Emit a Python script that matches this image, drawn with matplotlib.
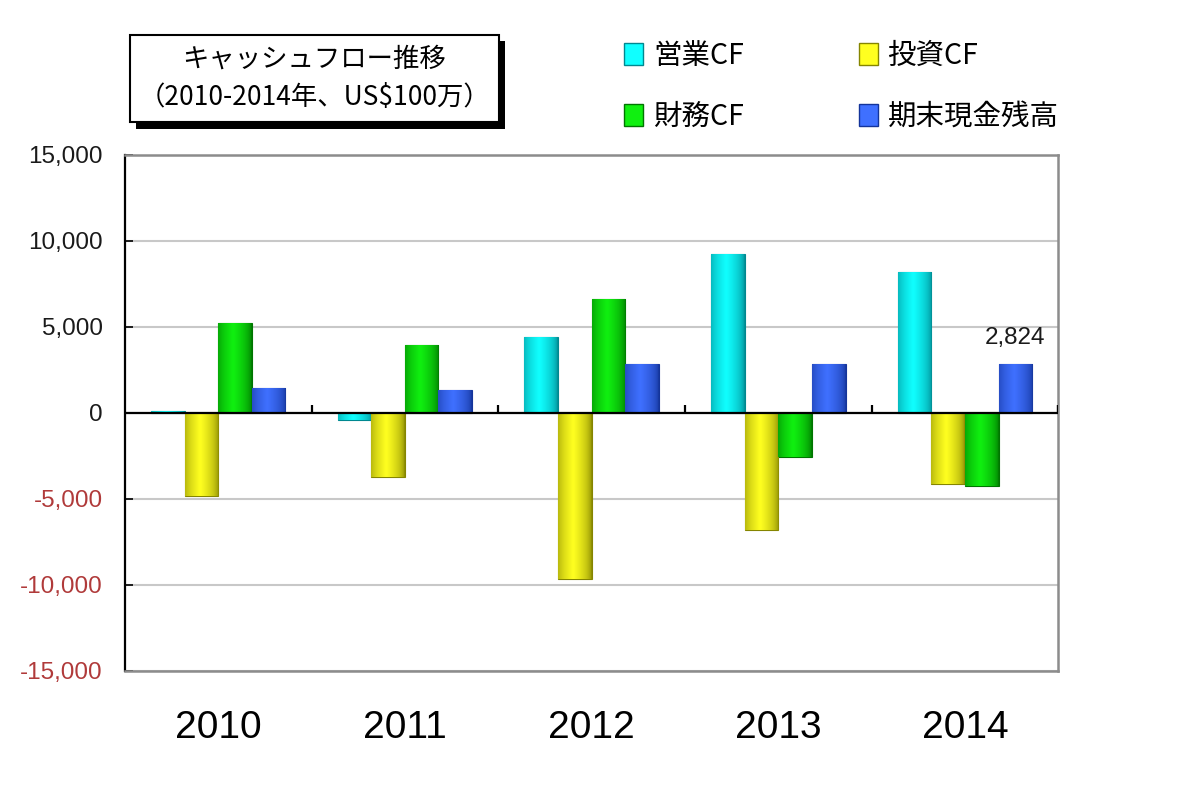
import numpy as np
import matplotlib
matplotlib.use('Agg')
import matplotlib.pyplot as plt
from matplotlib.colors import LinearSegmentedColormap
from matplotlib.patches import Rectangle, Patch

plt.rcParams['font.family'] = ['Noto Sans CJK JP', 'DejaVu Sans']

years = ['2010', '2011', '2012', '2013', '2014']
series_names = ['営業CF', '投資CF', '財務CF', '期末現金残高']
operating = [130, -430, 4400, 9260, 8170]
investing = [-4810, -3740, -9630, -6790, -4110]
financing = [5230, 3930, 6650, -2560, -4220]
cash_end = [1450, 1320, 2850, 2850, 2824]
yticks = [15000, 10000, 5000, 0, -5000, -10000, -15000]

dark = ['#008890', '#858500', '#007500', '#14349a']
bright = ['#10ffff', '#ffff20', '#10f010', '#3f70ff']

fig = plt.figure(figsize=(12, 7.89), dpi=100)
ax = fig.add_axes([0.104, 0.1496, 0.778, 0.654])

x = np.arange(len(years))
w = 0.18
t = np.linspace(0, 1, 64)
grad = np.clip(1 - np.abs(t - 0.45) / 0.55, 0, 1) ** 0.5
grad = grad[np.newaxis, :]

all_bars = []
for k, vals in enumerate([operating, investing, financing, cash_end]):
    bars = ax.bar(x + (k - 1.5) * w, vals, w, color=bright[k], edgecolor=dark[k],
                  linewidth=0.8, zorder=2)
    cmap = LinearSegmentedColormap.from_list('g%d' % k, [dark[k], bright[k]])
    for b in bars:
        x0, y0 = b.get_xy()
        h = b.get_height()
        im = ax.imshow(grad, extent=[x0, x0 + b.get_width(), min(y0, y0 + h), max(y0, y0 + h)],
                       aspect='auto', cmap=cmap, vmin=0, vmax=1, zorder=2.5,
                       interpolation='bilinear')
        im.set_clip_path(b)
    all_bars.append(bars)

ax.set_xlim(-0.5, len(years) - 0.5)
ax.set_ylim(-15000, 15000)
ax.set_aspect('auto')

ax.set_yticks(yticks)
ax.set_yticklabels(['{:,}'.format(v) for v in yticks], family=['Liberation Sans', 'DejaVu Sans'],
                   fontsize=17.5)
for lbl, v in zip(ax.get_yticklabels(), yticks):
    lbl.set_color('#b03a3a' if v < 0 else '#1a1a1a')
ax.tick_params(axis='y', direction='in', length=6, width=1.2, pad=16, color='black')
ax.grid(axis='y', color='#c8c8c8', linewidth=1.5, zorder=0)
ax.set_axisbelow(True)

ax.set_xticks(x)
ax.set_xticklabels(years, family=['Liberation Sans', 'DejaVu Sans'], fontsize=28)
ax.tick_params(axis='x', length=0, pad=28)

ax.axhline(0, color='black', linewidth=1.6, zorder=3)
ax.vlines(np.arange(0.5, len(years)), 0, 480, color='black', linewidth=1.6, zorder=3)
ax.vlines([len(years) - 0.5], 0, 480, color='black', linewidth=1.6, zorder=3)

ax.spines['left'].set_color('black')
ax.spines['left'].set_linewidth(1.6)
for s in ['top', 'right', 'bottom']:
    ax.spines[s].set_color('#8c8c8c')
    ax.spines[s].set_linewidth(1.8)

last = all_bars[3][-1]
ax.annotate('{:,}'.format(cash_end[-1]), (last.get_x() + last.get_width() / 2, cash_end[-1]),
            xytext=(0, 11), textcoords='offset points', ha='center', va='bottom',
            fontsize=17.5, family=['Liberation Sans', 'DejaVu Sans'], color='#1a1a1a')

# title box with shadow
bx, by, bw, bh = 0.108, 0.845, 0.308, 0.111
fig.add_artist(Rectangle((bx + 0.005, by - 0.008), bw, bh, transform=fig.transFigure,
                         facecolor='black', edgecolor='none', zorder=1))
fig.add_artist(Rectangle((bx, by), bw, bh, transform=fig.transFigure,
                         facecolor='white', edgecolor='black', linewidth=1.5, zorder=2))
fig.text(bx + bw / 2, by + bh * 0.72, 'キャッシュフロー推移', ha='center', va='center',
         fontsize=19, zorder=3)
fig.text(bx + bw / 2, by + bh * 0.28, '（2010-2014年、US$100万）', ha='center', va='center',
         fontsize=19, zorder=3)

order = [0, 2, 1, 3]
handles = [Patch(facecolor=bright[i], edgecolor=dark[i]) for i in order]
labels = [series_names[i] for i in order]
fig.legend(handles, labels, ncol=2, loc='upper left', bbox_to_anchor=(0.499, 0.981),
           frameon=False, fontsize=20.5, handlelength=0.65, handleheight=0.8,
           handletextpad=0.35, columnspacing=4.05, labelspacing=1.1)

fig.savefig('out.png', dpi=100)
